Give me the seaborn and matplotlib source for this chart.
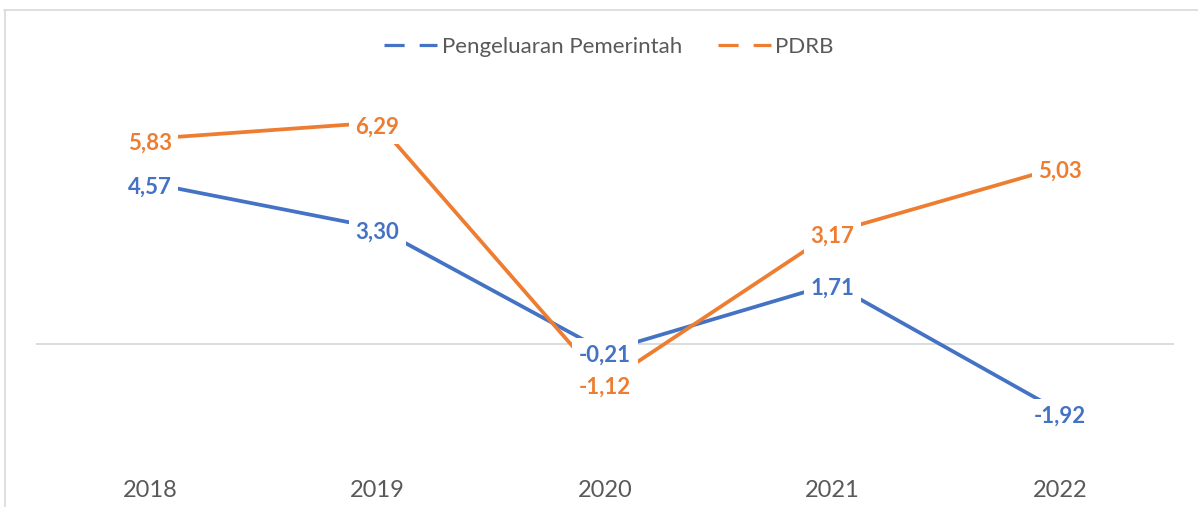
import matplotlib
matplotlib.use("Agg")
import matplotlib.pyplot as plt
from matplotlib.lines import Line2D
import seaborn as sns
import pandas as pd

years = ["2018", "2019", "2020", "2021", "2022"]
pengeluaran = [4.57, 3.30, -0.21, 1.71, -1.92]
pdrb = [5.83, 6.29, -1.12, 3.17, 5.03]
series_names = ["Pengeluaran Pemerintah", "PDRB"]
colors = ["#4472C4", "#ED7D31"]

sns.set_theme(style="white")
plt.rcParams["font.family"] = ["Lato", "DejaVu Sans"]

df = pd.DataFrame({
    "x": list(range(len(years))) * 2,
    "value": pengeluaran + pdrb,
    "series": [series_names[0]] * len(years) + [series_names[1]] * len(years),
})

fig = plt.figure(figsize=(11.98, 5.07), dpi=100)
ax = fig.add_axes([36 / 1198, 0.1132, (1174 - 36) / 1198, 0.6943])

sns.lineplot(data=df, x="x", y="value", hue="series", palette=colors,
             linewidth=2.7, ax=ax, legend=False, zorder=2)

ax.set_xlim(-0.5, len(years) - 0.5)
ax.set_ylim(-3, 7)
ax.axhline(0, color="#D9D9D9", linewidth=1.3, zorder=1)

for vals, col in zip([pengeluaran, pdrb], colors):
    for i, v in enumerate(vals):
        ax.annotate(f"{v:.2f}".replace(".", ","), (i, v), xytext=(0, -3),
                    textcoords="offset points", ha="center", va="center",
                    fontsize=16, fontweight="bold", color=col, zorder=5,
                    bbox=dict(boxstyle="square,pad=0.3", fc="white", ec="none"))

ax.set_xticks(range(len(years)))
ax.set_xticklabels(years)
ax.tick_params(axis="x", length=0, pad=22, labelsize=17, labelcolor="#595959")
ax.set_yticks([])
ax.set_xlabel("")
ax.set_ylabel("")
for s in ax.spines.values():
    s.set_visible(False)

handles = [Line2D([0], [0], color=c, linewidth=2.3, linestyle=(0, (6.3, 4.7)))
           for c in colors]
fig.legend(handles, series_names, loc="center", bbox_to_anchor=(609 / 1198, 1 - 47 / 507),
           ncol=2, frameon=False, fontsize=16, handlelength=2.4, handletextpad=0.2,
           columnspacing=1.6, labelcolor="#595959")

# chart frame edges
fig.add_artist(Line2D([4 / 1198, 1], [1 - 9.5 / 507, 1 - 9.5 / 507],
                      transform=fig.transFigure, color="#D9D9D9", linewidth=1.2))
fig.add_artist(Line2D([4.5 / 1198, 4.5 / 1198], [0, 1 - 9.5 / 507],
                      transform=fig.transFigure, color="#D9D9D9", linewidth=1.2))

fig.savefig("out.png", dpi=100, facecolor="white")
